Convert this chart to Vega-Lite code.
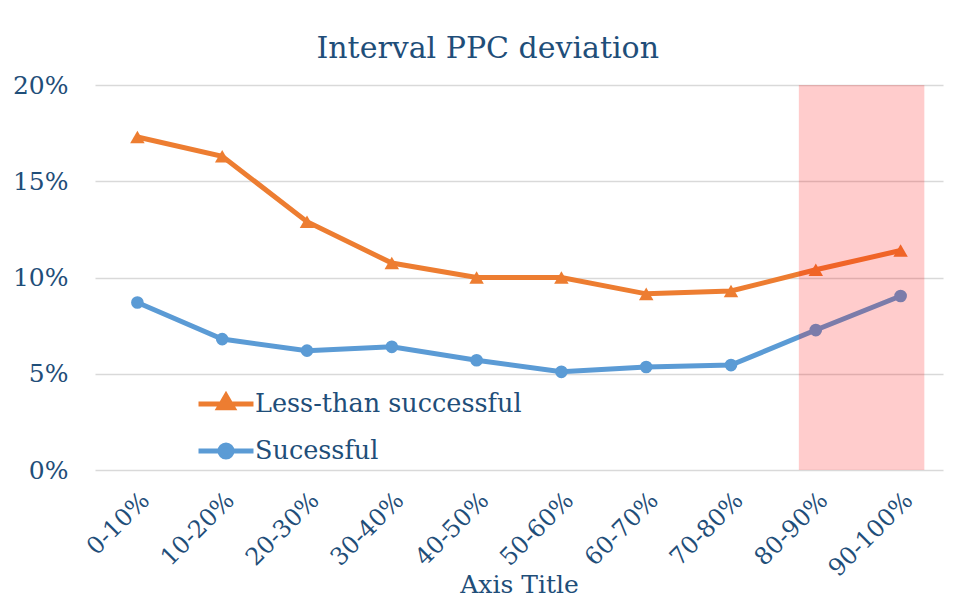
{
  "$schema": "https://vega.github.io/schema/vega-lite/v6.json",
  "width": 848,
  "height": 385,
  "padding": {"left": 12, "top": 34, "right": 10, "bottom": 2},
  "background": "white",
  "config": {
    "font": "DejaVu Serif",
    "view": {"stroke": null}
  },
  "title": {
    "text": "Interval PPC deviation",
    "fontSize": 30,
    "fontWeight": "normal",
    "color": "#1f4e79",
    "offset": 9,
    "frame": "bounds",
    "dx": 10
  },
  "datasets": {
    "series": [
      {"range": "0-10%", "series": "Less-than successful", "value": 0.173},
      {"range": "10-20%", "series": "Less-than successful", "value": 0.163},
      {"range": "20-30%", "series": "Less-than successful", "value": 0.129},
      {"range": "30-40%", "series": "Less-than successful", "value": 0.1075},
      {"range": "40-50%", "series": "Less-than successful", "value": 0.1},
      {"range": "50-60%", "series": "Less-than successful", "value": 0.1},
      {"range": "60-70%", "series": "Less-than successful", "value": 0.0915},
      {"range": "70-80%", "series": "Less-than successful", "value": 0.093},
      {"range": "80-90%", "series": "Less-than successful", "value": 0.104},
      {"range": "90-100%", "series": "Less-than successful", "value": 0.114},
      {"range": "0-10%", "series": "Sucessful", "value": 0.087},
      {"range": "10-20%", "series": "Sucessful", "value": 0.068},
      {"range": "20-30%", "series": "Sucessful", "value": 0.062},
      {"range": "30-40%", "series": "Sucessful", "value": 0.064},
      {"range": "40-50%", "series": "Sucessful", "value": 0.057},
      {"range": "50-60%", "series": "Sucessful", "value": 0.051},
      {"range": "60-70%", "series": "Sucessful", "value": 0.0535},
      {"range": "70-80%", "series": "Sucessful", "value": 0.0545},
      {"range": "80-90%", "series": "Sucessful", "value": 0.0727},
      {"range": "90-100%", "series": "Sucessful", "value": 0.0904}
    ],
    "highlight": [
      {"start": "80-90%", "end": "90-100%", "low": 0, "high": 0.2}
    ]
  },
  "encoding": {
    "x": {
      "field": "range",
      "type": "ordinal",
      "sort": ["0-10%", "10-20%", "20-30%", "30-40%", "40-50%", "50-60%", "60-70%", "70-80%", "80-90%", "90-100%"],
      "scale": {"type": "band", "paddingInner": 0, "paddingOuter": 0},
      "axis": {
        "title": "Axis Title",
        "titleFontSize": 25,
        "titleFontWeight": "normal",
        "titleColor": "#1f4e79",
        "titlePadding": -8,
        "labelAngle": -45,
        "labelFontSize": 24,
        "labelColor": "#1f4e79",
        "labelPadding": 18,
        "domain": false,
        "ticks": false,
        "grid": false
      }
    },
    "y": {
      "field": "value",
      "type": "quantitative",
      "scale": {"domain": [0, 0.2]},
      "axis": {
        "title": null,
        "values": [0, 0.05, 0.1, 0.15, 0.2],
        "format": ".0%",
        "labelFontSize": 25,
        "labelColor": "#1f4e79",
        "labelPadding": 27,
        "domain": false,
        "ticks": false,
        "gridColor": "#d9d9d9",
        "gridWidth": 1.5
      }
    }
  },
  "layer": [
    {
      "data": {"name": "series"},
      "mark": {"type": "line", "strokeWidth": 5},
      "encoding": {
        "color": {
          "field": "series",
          "type": "nominal",
          "scale": {"domain": ["Less-than successful", "Sucessful"], "range": ["#ed7d31", "#5b9bd5"]},
          "legend": {
            "title": null,
            "orient": "none",
            "legendX": 110,
            "legendY": 298,
            "labelFontSize": 25.5,
            "labelColor": "#1f4e79",
            "labelLimit": 500,
            "symbolType": "M-1.5,0H1.5",
            "symbolSize": 1344,
            "symbolStrokeWidth": 5,
            "labelOffset": 8,
            "rowPadding": 12,
            "encode": {
              "symbols": {
                "update": {
                  "shape": {"signal": "datum.value === 'Sucessful' ? 'M-1.5,0H1.5M0.33,0A0.33,0.33 0 1,1 -0.33,0A0.33,0.33 0 1,1 0.33,0Z' : 'M-1.5,0H1.5M0,-0.45L0.38,0.2H-0.38Z'"},
                  "fill": {"scale": "color", "field": "value"},
                  "stroke": {"scale": "color", "field": "value"},
                  "strokeWidth": {"value": 5},
                  "opacity": {"value": 1}
                }
              }
            }
          }
        }
      }
    },
    {
      "data": {"name": "series"},
      "transform": [{"filter": "datum.series === 'Less-than successful'"}],
      "mark": {"type": "point", "filled": true, "opacity": 1, "shape": "triangle-up", "size": 210},
      "encoding": {
        "color": {"field": "series", "type": "nominal"}
      }
    },
    {
      "data": {"name": "series"},
      "transform": [{"filter": "datum.series === 'Sucessful'"}],
      "mark": {"type": "point", "filled": true, "opacity": 1, "shape": "circle", "size": 160},
      "encoding": {
        "color": {"field": "series", "type": "nominal"}
      }
    },
    {
      "data": {"name": "highlight"},
      "mark": {"type": "rect", "color": "#ff0000", "opacity": 0.2},
      "encoding": {
        "x": {"field": "start", "type": "ordinal", "bandPosition": 0.3},
        "x2": {"field": "end", "bandPosition": 0.78},
        "y": {"field": "high", "type": "quantitative"},
        "y2": {"field": "low"}
      }
    }
  ]
}
